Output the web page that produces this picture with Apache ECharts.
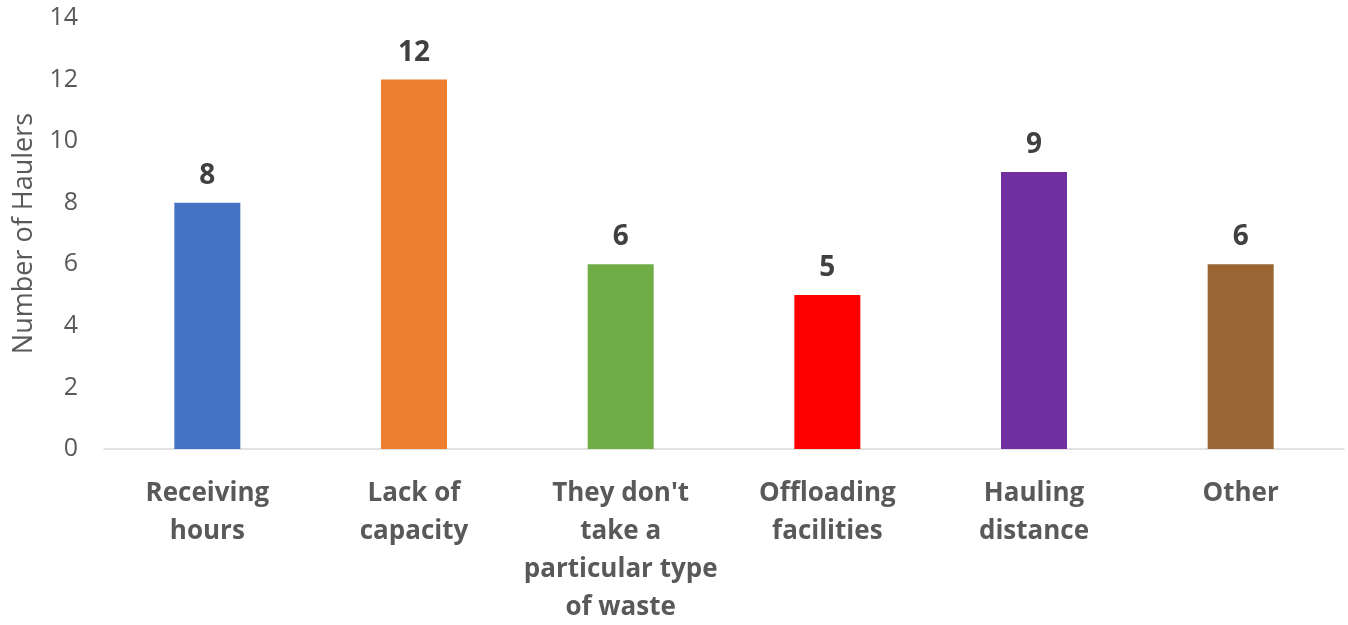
<!DOCTYPE html>
<html>
<head>
<meta charset="utf-8">
<script src="https://cdn.jsdelivr.net/npm/echarts@6/dist/echarts.min.js"></script>
<style>
  html, body { margin: 0; padding: 0; background: #fff; }
</style>
</head>
<body>
<div id="chart" style="width:1348px;height:625px"></div>
<script>
const categories = ['Receiving\nhours', 'Lack of\ncapacity', "They don't\ntake a\nparticular type\nof waste", 'Offloading\nfacilities', 'Hauling\ndistance', 'Other']
const haulers = [8, 12, 6, 5, 9, 6]
const barColors = ['#4472C4', '#ED7D31', '#70AD47', '#FF0000', '#7030A0', '#996633']
const yTicks = { min: 0, max: 14, interval: 2 }

const myChart = echarts.init(document.getElementById('chart'))
const font = '"Open Sans", "Liberation Sans", sans-serif'

const option = {
    animation: false,
    grid: {
        left: 104,
        right: 4,
        top: 18,
        bottom: 176,
        outerBoundsMode: 'none'
    },
    xAxis: {
        type: 'category',
        data: categories,
        axisLine: {
            show: true,
            lineStyle: { color: '#d9d9d9', width: 1.5 }
        },
        axisTick: { show: false },
        axisLabel: {
            color: '#595959',
            fontFamily: font,
            fontWeight: 'bold',
            fontSize: 26,
            lineHeight: 38,
            margin: 26,
            interval: 0
        }
    },
    yAxis: {
        type: 'value',
        min: yTicks.min,
        max: yTicks.max,
        interval: yTicks.interval,
        name: 'Number of Haulers',
        nameLocation: 'middle',
        nameGap: 66,
        nameTextStyle: {
            color: '#595959',
            fontFamily: font,
            fontSize: 27
        },
        axisLine: { show: false },
        axisTick: { show: false },
        splitLine: { show: false },
        axisLabel: {
            color: '#595959',
            fontFamily: font,
            fontSize: 25,
            margin: 26
        }
    },
    series: [{
        type: 'bar',
        barWidth: 66,
        data: haulers.map((v, i) => ({ value: v, itemStyle: { color: barColors[i] } })),
        label: {
            show: true,
            position: 'top',
            distance: 13,
            color: '#404040',
            fontFamily: font,
            fontWeight: 'bold',
            fontSize: 28
        }
    }]
}
myChart.setOption(option)
</script>
</body>
</html>
